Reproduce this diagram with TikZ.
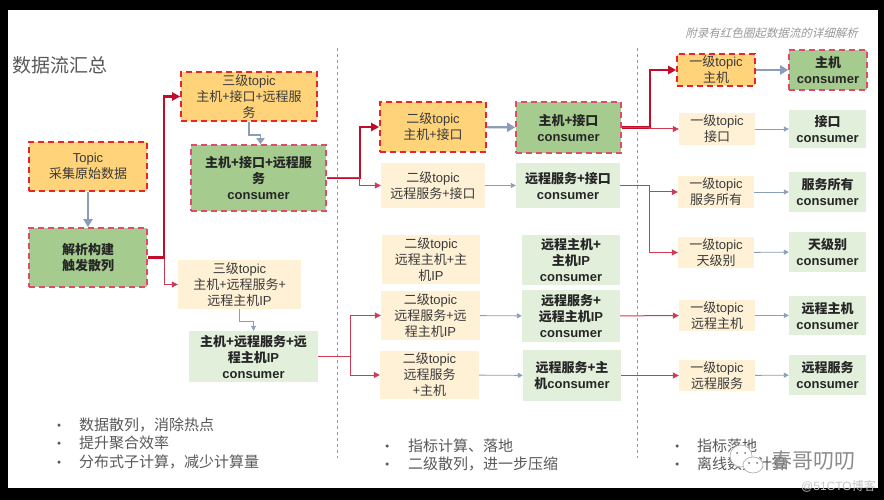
\documentclass[tikz,border=0pt]{standalone}
\usepackage{fontspec}
\setmainfont{Noto Sans CJK SC}
\newfontfamily\latfont{Liberation Sans}
\newfontfamily\slantfont[FakeSlant=0.25]{Noto Sans CJK SC}
\usetikzlibrary{arrows.meta,shapes.geometric}

\definecolor{hotorange}{HTML}{FFD37A}
\definecolor{hotgreen}{HTML}{A5CB8E}
\definecolor{paleorange}{HTML}{FFF1D6}
\definecolor{palegreen}{HTML}{E2EFDB}
\definecolor{hotred}{HTML}{C00D2A}
\definecolor{thinred}{HTML}{CF3A55}
\definecolor{flowblue}{HTML}{8C9DB8}
\definecolor{inktext}{HTML}{3A3A3A}
\definecolor{topicedge}{HTML}{E8242F}
\definecolor{consedge}{HTML}{E04A6E}

\newcommand{\en}[1]{{\latfont #1}}
\newcommand{\topicword}{\en{topic}}
\newcommand{\consword}{\en{\textbf{consumer}}}

\tikzset{
  flowbox/.style={rectangle, inner sep=0pt, align=center, font=\fontsize{13}{16}\selectfont},
  hottopic/.style={flowbox, fill=hotorange, draw=topicedge, line width=1.6pt, dash pattern=on 6pt off 4pt, text=inktext},
  hotcons/.style={flowbox, fill=hotgreen, draw=consedge, line width=1.6pt, dash pattern=on 6pt off 4pt, font=\fontsize{13}{16}\selectfont\bfseries, text=black!85},
  paletopic/.style={flowbox, fill=paleorange, text=inktext},
  palecons/.style={flowbox, fill=palegreen, font=\fontsize{13}{16}\selectfont\bfseries, text=black!85},
  hotline/.style={draw=hotred, line width=2.2pt, -{Triangle[length=8pt,width=8pt]}},
  redline/.style={draw=thinred, line width=1pt, -{Triangle[length=6pt,width=6pt]}},
  hotflow/.style={draw=flowblue, line width=2.2pt, -{Triangle[length=8pt,width=9pt]}},
  elbowflow/.style={draw=flowblue, line width=1.8pt, -{Triangle[length=6pt,width=8pt]}},
  thinflow/.style={draw=flowblue, line width=0.9pt, -{Triangle[length=5pt,width=5pt]}},
  noteline/.style={anchor=west, inner sep=0pt, text=black!65, font=\fontsize{15}{17}\selectfont},
  notedot/.style={circle, fill=black!65, inner sep=0pt, minimum size=3.5pt},
  divider/.style={draw=black!40, line width=1pt, dash pattern=on 3pt off 3pt},
  wxbubble/.style={draw=black!30, fill=white, line width=0.7pt}
}

\begin{document}
\begin{tikzpicture}[x=1pt, y=-1pt]

    % Page and slide
    \useasboundingbox (0,0) rectangle (884,500);
    \fill[black] (0,0) rectangle (884,500);
    \fill[white] (8,10) rectangle (878,488);

    % Title and remark
    \node[anchor=west, inner sep=0pt, text=black!65, font=\fontsize{19}{21}\selectfont] (title) at (12,65) {数据流汇总};
    \node[anchor=east, inner sep=0pt, text=black!40, font=\fontsize{11.5}{13}\selectfont\slantfont] (remark) at (858,33) {附录有红色圈起数据流的详细解析};

    % Section dividers
    \coordinate (divAtop) at (337,48);
    \coordinate (divAbot) at (337,458);
    \coordinate (divBtop) at (637,48);
    \coordinate (divBbot) at (637,458);
    \draw[divider] (divAtop) -- (divAbot);
    \draw[divider] (divBtop) -- (divBbot);

    % Raw data column
    \node[hottopic, minimum width=118pt, minimum height=49pt] (raw) at (88,166.5) {\en{Topic}\\采集原始数据};
    \node[hotcons, minimum width=118pt, minimum height=59pt] (parse) at (88,257.5) {解析构建\\触发散列};

    % Level three topics
    \node[hottopic, minimum width=136pt, minimum height=49pt] (threeA) at (249,96.5) {三级\topicword\\主机+接口+远程服\\务};
    \node[hotcons, minimum width=135pt, minimum height=66pt] (consA) at (258.5,178) {主机+接口+远程服\\务\\\consword};
    \node[paletopic, minimum width=123pt, minimum height=49pt] (threeB) at (239.5,284.5) {三级\topicword\\主机+远程服务+\\远程主机\en{IP}};
    \node[palecons, minimum width=129pt, minimum height=51pt] (consB) at (253.5,356.5) {主机+远程服务+远\\程主机\en{IP}\\\consword};

    % Level two topics
    \node[hottopic, minimum width=106pt, minimum height=50pt] (twoA) at (433,127) {二级\topicword\\主机+接口};
    \node[hotcons, minimum width=105pt, minimum height=51pt] (twoAc) at (568.5,127.5) {主机+接口\\\consword};
    \node[paletopic, minimum width=104pt, minimum height=45pt] (twoB) at (433,185.5) {二级\topicword\\远程服务+接口};
    \node[palecons, minimum width=104pt, minimum height=45pt] (twoBc) at (568,185.5) {远程服务+接口\\\consword};
    \node[paletopic, minimum width=98pt, minimum height=49pt] (twoC) at (431,259.5) {二级\topicword\\远程主机+主\\机\en{IP}};
    \node[palecons, minimum width=98pt, minimum height=50pt] (twoCc) at (571,260) {远程主机+\\主机\en{IP}\\\consword};
    \node[paletopic, minimum width=99pt, minimum height=49pt] (twoD) at (430.5,315.5) {二级\topicword\\远程服务+远\\程主机\en{IP}};
    \node[palecons, minimum width=98pt, minimum height=52pt] (twoDc) at (571,316) {远程服务+\\远程主机\en{IP}\\\consword};
    \node[paletopic, minimum width=99pt, minimum height=48pt] (twoE) at (429.5,375) {二级\topicword\\远程服务\\+主机};
    \node[palecons, minimum width=98pt, minimum height=51pt] (twoEc) at (572,375.5) {远程服务+主\\机\en{\textbf{consumer}}};

    % Level one topics
    \node[hottopic, minimum width=78pt, minimum height=32pt] (oneA) at (716,70) {一级\topicword\\主机};
    \node[hotcons, minimum width=78pt, minimum height=40pt] (oneAc) at (828,70) {主机\\\consword};
    \node[paletopic, minimum width=76pt, minimum height=32pt] (oneB) at (717,129) {一级\topicword\\接口};
    \node[palecons, minimum width=77pt, minimum height=38pt] (oneBc) at (827.5,129) {接口\\\consword};
    \node[paletopic, minimum width=76pt, minimum height=32pt] (oneC) at (716,192) {一级\topicword\\服务所有};
    \node[palecons, minimum width=77pt, minimum height=40pt] (oneCc) at (827.5,192) {服务所有\\\consword};
    \node[paletopic, minimum width=76pt, minimum height=31pt] (oneD) at (716,252.5) {一级\topicword\\天级别};
    \node[palecons, minimum width=77pt, minimum height=40pt] (oneDc) at (827.5,252) {天级别\\\consword};
    \node[paletopic, minimum width=76pt, minimum height=31pt] (oneE) at (717,315.5) {一级\topicword\\远程主机};
    \node[palecons, minimum width=77pt, minimum height=39pt] (oneEc) at (827.5,315.5) {远程主机\\\consword};
    \node[paletopic, minimum width=76pt, minimum height=31pt] (oneF) at (717,375.5) {一级\topicword\\远程服务};
    \node[palecons, minimum width=77pt, minimum height=40pt] (oneFc) at (827.5,375) {远程服务\\\consword};

    % Connectors of the left section
    \draw[hotflow] (raw) -- (parse);
    \draw[redline] (parse.east) -- ++(17,0) |- (threeB.west);
    \draw[hotline] (parse.east) -- ++(16,0) |- (threeA.west);
    \draw[elbowflow] (threeA.south) -- ++(0,13) -| ([xshift=2pt]consA.north);
    \draw[thinflow] (threeB.south) -- ++(0,12) -| (consB.north);

    % Connectors of the middle section
    \draw[hotline] (consA.east) -- ++(33,0) |- (twoA.west);
    \draw[redline] (consA.east) -- ++(33,0) |- (twoB.west);
    \draw[redline] (consB.east) -- ++(32,0) |- (twoD.west);
    \draw[redline] (consB.east) -- ++(32,0) |- (twoE.west);
    \draw[hotflow] (twoA) -- (twoAc);
    \draw[thinflow] (twoB) -- (twoBc);
    \draw[thinflow] (twoD) -- (twoDc);
    \draw[thinflow] (twoE) -- (twoEc);

    % Connectors of the right section
    \draw[hotline] (twoAc.east) -- ++(28,0) |- (oneA.west);
    \draw[redline] (twoAc.east) -- ++(28,0) |- (oneB.west);
    \draw[redline] (twoBc.east) -- ++(29,0) |- (oneC.west);
    \draw[redline] (twoBc.east) -- ++(29,0) |- (oneD.west);
    \draw[redline] (twoDc) -- (oneE);
    \draw[redline] (twoEc) -- (oneF);
    \draw[hotflow] (oneA) -- (oneAc);
    \draw[thinflow] (oneB) -- (oneBc);
    \draw[thinflow] (oneC) -- (oneCc);
    \draw[thinflow] (oneD) -- (oneDc);
    \draw[thinflow] (oneE) -- (oneEc);
    \draw[thinflow] (oneF) -- (oneFc);

    % Notes under each section
    \node[notedot] (dotA) at (59,425) {};
    \node[notedot] (dotB) at (59,443) {};
    \node[notedot] (dotC) at (59,462) {};
    \node[noteline] (noteA) at (79,425) {数据散列，消除热点};
    \node[noteline] (noteB) at (79,443) {提升聚合效率};
    \node[noteline] (noteC) at (79,462) {分布式子计算，减少计算量};

    \node[notedot] (dotD) at (387,446) {};
    \node[notedot] (dotE) at (387,464) {};
    \node[noteline] (noteD) at (408,446) {指标计算、落地};
    \node[noteline] (noteE) at (408,464) {二级散列，进一步压缩};

    \node[notedot] (dotF) at (677,446) {};
    \node[notedot] (dotG) at (677,464) {};
    \node[noteline] (noteF) at (697,446) {指标落地};
    \node[noteline] (noteG) at (697,464) {离线数据计算};

    % Watermark
    \draw[wxbubble] (741,456) ellipse (11pt and 11pt);
    \fill[black!55] (737,453) circle (1pt) (745,453) circle (1pt);
    \draw[wxbubble] (753,465) ellipse (10pt and 8pt);
    \fill[black!55] (749,463) circle (1pt) (757,463) circle (1pt);
    \node[anchor=west, inner sep=0pt, text=black!45, font=\fontsize{21}{23}\selectfont] (mark) at (771,461) {春哥叨叨};
    \node[anchor=east, inner sep=0pt, text=black!22, font=\fontsize{12}{14}\selectfont] (site) at (876,486) {\en{@51CTO}博客};

\end{tikzpicture}
\end{document}
